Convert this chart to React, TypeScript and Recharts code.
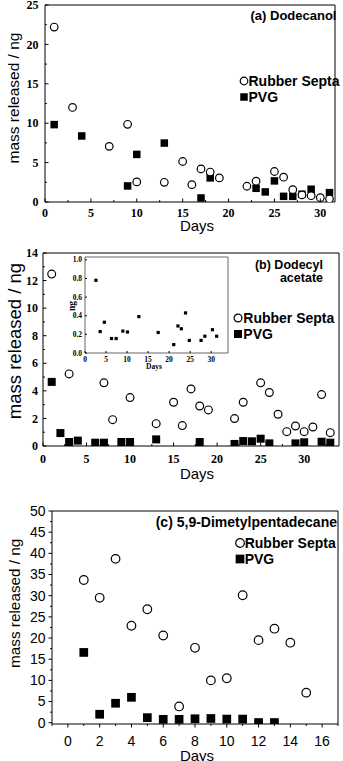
import { ScatterChart, Scatter, XAxis, YAxis, ReferenceArea, Legend } from 'recharts';

const seriesNames = ['Rubber Septa', 'PVG'];

// (a) Dodecanol
const daysASepta = [1, 3, 7, 9, 10, 13, 15, 16, 17, 18, 19, 22, 23, 25, 26, 27, 28, 29, 30, 31];
const massASepta = [22.2, 12.0, 7.06, 9.86, 2.55, 2.5, 5.14, 2.2, 4.2, 3.8, 3.06, 2.0, 2.64, 3.87, 3.15, 1.57, 0.9, 0.8, 0.55, 0.38];
const daysAPvg = [1, 4, 9, 10, 13, 17, 18, 23, 24, 25, 26, 27, 28, 29, 31];
const massAPvg = [9.82, 8.38, 2.04, 6.04, 7.48, 0.51, 3.06, 1.74, 1.28, 2.68, 0.72, 0.72, 0.98, 1.62, 1.19];
const xTicksA = [0, 2.5, 5, 7.5, 10, 12.5, 15, 17.5, 20, 22.5, 25, 27.5, 30];
const xMajorA = [0, 5, 10, 15, 20, 25, 30];
const yTicksA = [0, 2.5, 5, 7.5, 10, 12.5, 15, 17.5, 20, 22.5, 25];
const yMajorA = [0, 5, 10, 15, 20, 25];

// (b) Dodecyl acetate
const daysBSepta = [1, 3, 7, 8, 10, 13, 15, 16, 17, 18, 19, 22, 23, 25, 26, 27, 28, 29, 30, 31, 32, 33];
const massBSepta = [12.47, 5.23, 4.58, 1.91, 3.51, 1.62, 3.17, 1.48, 4.14, 2.9, 2.62, 1.99, 3.17, 4.58, 3.88, 2.3, 1.04, 1.45, 1.04, 1.38, 3.73, 0.97];
const daysBPvg = [1, 2, 3, 4, 6, 7, 9, 10, 13, 18, 22, 23, 24, 25, 26, 29, 30, 32, 33];
const massBPvg = [4.65, 0.94, 0.29, 0.39, 0.24, 0.24, 0.29, 0.29, 0.48, 0.29, 0.15, 0.36, 0.34, 0.53, 0.19, 0.19, 0.27, 0.31, 0.24];
const xTicksB = [0, 2.5, 5, 7.5, 10, 12.5, 15, 17.5, 20, 22.5, 25, 27.5, 30, 32.5];
const xMajorB = [0, 5, 10, 15, 20, 25, 30];
const yTicksB = [0, 1, 2, 3, 4, 5, 6, 7, 8, 9, 10, 11, 12, 13, 14];
const yMajorB = [0, 2, 4, 6, 8, 10, 12, 14];

// (b) inset, PVG only
const daysInset = [2.6, 3.6, 4.6, 6.3, 7.4, 9.0, 10.1, 12.8, 17.4, 21.1, 22.1, 22.9, 23.9, 24.8, 27.6, 28.5, 30.3, 31.3];
const massInset = [0.78, 0.23, 0.33, 0.155, 0.155, 0.235, 0.225, 0.39, 0.22, 0.09, 0.29, 0.26, 0.43, 0.135, 0.135, 0.18, 0.25, 0.18];
const xTicksInset = [0, 5, 10, 15, 20, 25, 30];
const yTicksInset = [0, 0.2, 0.4, 0.6, 0.8, 1.0];

// (c) 5,9-Dimetylpentadecane
const daysCSepta = [1, 2, 3, 4, 5, 6, 7, 8, 9, 10, 11, 12, 13, 14, 15];
const massCSepta = [33.7, 29.5, 38.7, 22.9, 26.8, 20.6, 3.85, 17.7, 10.0, 10.5, 30.1, 19.5, 22.2, 18.9, 7.1];
const daysCPvg = [1, 2, 3, 4, 5, 6, 7, 8, 9, 10, 11, 12, 13];
const massCPvg = [16.6, 2.0, 4.6, 6.0, 1.2, 0.8, 0.8, 0.94, 1.0, 0.86, 0.86, 0.05, 0.05];
const xTicksC = [-1, 0, 1, 2, 3, 4, 5, 6, 7, 8, 9, 10, 11, 12, 13, 14, 15, 16, 17];
const xMajorC = [0, 2, 4, 6, 8, 10, 12, 14, 16];
const yTicksC = [0, 2.5, 5, 7.5, 10, 12.5, 15, 17.5, 20, 22.5, 25, 27.5, 30, 32.5, 35, 37.5, 40, 42.5, 45, 47.5, 50];
const yMajorC = [0, 5, 10, 15, 20, 25, 30, 35, 40, 45, 50];

const SANS = '"Liberation Sans", Arial, sans-serif';
const SERIF = '"Liberation Serif", "Times New Roman", serif';

const pts = (xs: number[], ys: number[]) => xs.map((x, i) => ({ x, y: ys[i] }));

const openCircle = (r: number) => (p: any) => (
  <circle cx={p.cx} cy={p.cy} r={r} fill="#fff" stroke="#000" strokeWidth={1.2} />
);
const square = (s: number) => (p: any) => (
  <rect x={p.cx - s / 2} y={p.cy - s / 2} width={s} height={s} fill="#000" />
);

interface TickStyle {
  major: number[];
  len: number;
  inside: boolean;
  font: string;
  size: number;
  weight: number | string;
  gap: number;
  fmt?: (v: number) => string;
}

// tickSize/tickMargin are 0, so x/y here is the point on the axis line
const bottomTick = (s: TickStyle) => (p: any) => {
  const v = p.payload.value;
  const isMajor = s.major.includes(v);
  const l = isMajor ? s.len : s.len * 0.55;
  return (
    <g>
      <line x1={p.x} x2={p.x} y1={p.y} y2={s.inside ? p.y - l : p.y + l} stroke="#000" />
      {isMajor && (
        <text x={p.x} y={p.y + s.gap} textAnchor="middle" fontFamily={s.font} fontSize={s.size} fontWeight={s.weight} fill="#000">
          {s.fmt ? s.fmt(v) : v}
        </text>
      )}
    </g>
  );
};

const leftTick = (s: TickStyle) => (p: any) => {
  const v = p.payload.value;
  const isMajor = s.major.includes(v);
  const l = isMajor ? s.len : s.len * 0.55;
  return (
    <g>
      <line x1={p.x} x2={s.inside ? p.x + l : p.x - l} y1={p.y} y2={p.y} stroke="#000" />
      {isMajor && (
        <text x={p.x - s.gap} y={p.y + s.size * 0.35} textAnchor="end" fontFamily={s.font} fontSize={s.size} fontWeight={s.weight} fill="#000">
          {s.fmt ? s.fmt(v) : v}
        </text>
      )}
    </g>
  );
};

const sideLabel = (text: string, cx: number, cy: number, size: number, font = SANS, weight: number | string = 'normal') => () => (
  <text x={cx} y={cy} transform={`rotate(-90 ${cx} ${cy})`} textAnchor="middle" dominantBaseline="central" fontFamily={font} fontSize={size} fontWeight={weight} fill="#000">
    {text}
  </text>
);

const bottomLabel = (text: string, cx: number, base: number, size: number, font = SANS, weight: number | string = 'normal') => () => (
  <text x={cx} y={base} textAnchor="middle" fontFamily={font} fontSize={size} fontWeight={weight} fill="#000">
    {text}
  </text>
);

const LegendBox = ({ size, row, r, sq }: { size: number; row: number; r: number; sq: number }) => (
  <div style={{ fontFamily: SANS, fontWeight: 'bold', fontSize: size, color: '#000' }}>
    {seriesNames.map((name, i) => (
      <div key={name} style={{ display: 'flex', alignItems: 'center', height: row, whiteSpace: 'nowrap' }}>
        <svg width={10} height={10} style={{ display: 'block' }}>
          {i === 0
            ? <circle cx={5} cy={5} r={r} fill="#fff" stroke="#000" strokeWidth={1.2} />
            : <rect x={5 - sq / 2} y={5 - sq / 2} width={sq} height={sq} fill="#000" />}
        </svg>
        <span>{name}</span>
      </div>
    ))}
  </div>
);

const serifTicks = { inside: true, font: SERIF, size: 12, weight: 'bold', len: 3.5 };

const App = () => (
  <div style={{ position: 'absolute', left: 0, top: 0, width: 343, height: 761, background: '#fff' }}>
    {/* (a) */}
    <div style={{ position: 'absolute', left: 0, top: 0 }}>
      <ScatterChart width={343} height={240} margin={{ top: 5, right: 8, left: 0, bottom: 0 }}>
        <XAxis type="number" dataKey="x" domain={[0, 31.6]} allowDataOverflow ticks={xTicksA} interval={0}
          tickSize={0} tickMargin={0} tickLine={false} axisLine={false}
          height={38} tick={bottomTick({ ...serifTicks, major: xMajorA, gap: 15 })}
          label={bottomLabel('Days', 197, 231, 15)} />
        <YAxis type="number" dataKey="y" domain={[0, 25]} allowDataOverflow ticks={yTicksA} interval={0}
          tickSize={0} tickMargin={0} tickLine={false} axisLine={false}
          width={45} tick={leftTick({ ...serifTicks, major: yMajorA, gap: 6.5 })}
          label={sideLabel('mass released / ng', 13.5, 98, 15.5)} />
        <ReferenceArea x1={0} x2={31.6} y1={0} y2={25} fill="none" stroke="#000" strokeWidth={1} />
        <Scatter name="PVG" data={pts(daysAPvg, massAPvg)} shape={square(7.5)} isAnimationActive={false} />
        <Scatter name="Rubber Septa" data={pts(daysASepta, massASepta)} shape={openCircle(3.8)} isAnimationActive={false} />
        <Legend layout="vertical" align="center" verticalAlign="middle"
          wrapperStyle={{ left: 238.5, top: 73, width: 'auto', height: 'auto' }}
          content={() => <LegendBox size={14} row={16} r={3.8} sq={7.5} />} />
      </ScatterChart>
      <div style={{ position: 'absolute', right: 6.5, top: 8, fontFamily: SANS, fontWeight: 'bold', fontSize: 13, lineHeight: '16px', whiteSpace: 'nowrap' }}>
        (a) Dodecanol
      </div>
    </div>

    {/* (b) */}
    <div style={{ position: 'absolute', left: 0, top: 230 }}>
      <ScatterChart width={343} height={260} margin={{ top: 23, right: 4, left: 0, bottom: 0 }}>
        <XAxis type="number" dataKey="x" domain={[0, 34]} allowDataOverflow ticks={xTicksB} interval={0}
          tickSize={0} tickMargin={0} tickLine={false} axisLine={false}
          height={44} tick={bottomTick({ ...serifTicks, major: xMajorB, gap: 17 })}
          label={bottomLabel('Days', 197, 249, 15)} />
        <YAxis type="number" dataKey="y" domain={[0, 14]} allowDataOverflow ticks={yTicksB} interval={0}
          tickSize={0} tickMargin={0} tickLine={false} axisLine={false}
          width={43} tick={leftTick({ ...serifTicks, major: yMajorB, gap: 5 })}
          label={sideLabel('mass released / ng', 14, 111, 18.5)} />
        <ReferenceArea x1={0} x2={34} y1={0} y2={14} fill="none" stroke="#000" strokeWidth={1} />
        <Scatter name="PVG" data={pts(daysBPvg, massBPvg)} shape={square(8)} isAnimationActive={false} />
        <Scatter name="Rubber Septa" data={pts(daysBSepta, massBSepta)} shape={openCircle(3.9)} isAnimationActive={false} />
        <Legend layout="vertical" align="center" verticalAlign="middle"
          wrapperStyle={{ left: 233.3, top: 80.3, width: 'auto', height: 'auto' }}
          content={() => <LegendBox size={14} row={16} r={3.9} sq={8} />} />
      </ScatterChart>
      <div style={{ position: 'absolute', right: 20, top: 28.5, fontFamily: SANS, fontWeight: 'bold', fontSize: 12.5, lineHeight: '13px', textAlign: 'right', whiteSpace: 'nowrap' }}>
        (b) Dodecyl<br />acetate
      </div>
      {/* inset */}
      <div style={{ position: 'absolute', left: 55, top: 18 }}>
        <ScatterChart width={180} height={125} margin={{ top: 9, right: 7, left: 0, bottom: 0 }}>
          <XAxis type="number" dataKey="x" domain={[0, 34]} allowDataOverflow ticks={xTicksInset} interval={0}
            tickSize={0} tickMargin={0} tickLine={false} axisLine={false}
            height={20} tick={bottomTick({ inside: true, font: SERIF, size: 7.5, weight: 'bold', len: 2, major: xTicksInset, gap: 8.5 })}
            label={bottomLabel('Days', 99, 121, 7.5, SERIF, 'bold')} />
          <YAxis type="number" dataKey="y" domain={[0, 1.03]} allowDataOverflow ticks={yTicksInset} interval={0}
            tickSize={0} tickMargin={0} tickLine={false} axisLine={false}
            width={30} tick={leftTick({ inside: true, font: SERIF, size: 7.5, weight: 'bold', len: 2, major: yTicksInset, gap: 3, fmt: (v) => v.toFixed(1) })}
            label={sideLabel('ng', 17, 58, 9.5, SERIF, 'bold')} />
          <ReferenceArea x1={0} x2={34} y1={0} y2={1.03} fill="none" stroke="#666" strokeWidth={1} />
          <Scatter name="PVG" data={pts(daysInset, massInset)} shape={square(3.2)} isAnimationActive={false} />
        </ScatterChart>
      </div>
    </div>

    {/* (c) */}
    <div style={{ position: 'absolute', left: 0, top: 480 }}>
      <ScatterChart width={343} height={281} margin={{ top: 31, right: 5, left: 0, bottom: 0 }}>
        <XAxis type="number" dataKey="x" domain={[-1, 17]} allowDataOverflow ticks={xTicksC} interval={0}
          tickSize={0} tickMargin={0} tickLine={false} axisLine={false}
          height={37} tick={bottomTick({ inside: false, font: SANS, size: 14, weight: 'normal', len: 3.5, major: xMajorC, gap: 22 })}
          label={bottomLabel('Days', 197, 281, 15)} />
        <YAxis type="number" dataKey="y" domain={[-0.3, 50]} allowDataOverflow ticks={yTicksC} interval={0}
          tickSize={0} tickMargin={0} tickLine={false} axisLine={false}
          width={52} tick={leftTick({ inside: false, font: SANS, size: 14, weight: 'normal', len: 3.5, major: yMajorC, gap: 6.5 })}
          label={sideLabel('mass released / ng', 15, 123.3, 15.3)} />
        <ReferenceArea x1={-1} x2={17} y1={-0.3} y2={50} fill="none" stroke="#000" strokeWidth={1} />
        <Scatter name="PVG" data={pts(daysCPvg, massCPvg)} shape={square(8.7)} isAnimationActive={false} />
        <Scatter name="Rubber Septa" data={pts(daysCSepta, massCSepta)} shape={openCircle(4.3)} isAnimationActive={false} />
        <Legend layout="vertical" align="center" verticalAlign="middle"
          wrapperStyle={{ left: 234.7, top: 54.5, width: 'auto', height: 'auto' }}
          content={() => <LegendBox size={14} row={16.5} r={4.3} sq={8.7} />} />
      </ScatterChart>
      <div style={{ position: 'absolute', right: 6, top: 34, fontFamily: SANS, fontWeight: 'bold', fontSize: 14, lineHeight: '16px', whiteSpace: 'nowrap' }}>
        (c) 5,9-Dimetylpentadecane
      </div>
    </div>
  </div>
);

export default App;
